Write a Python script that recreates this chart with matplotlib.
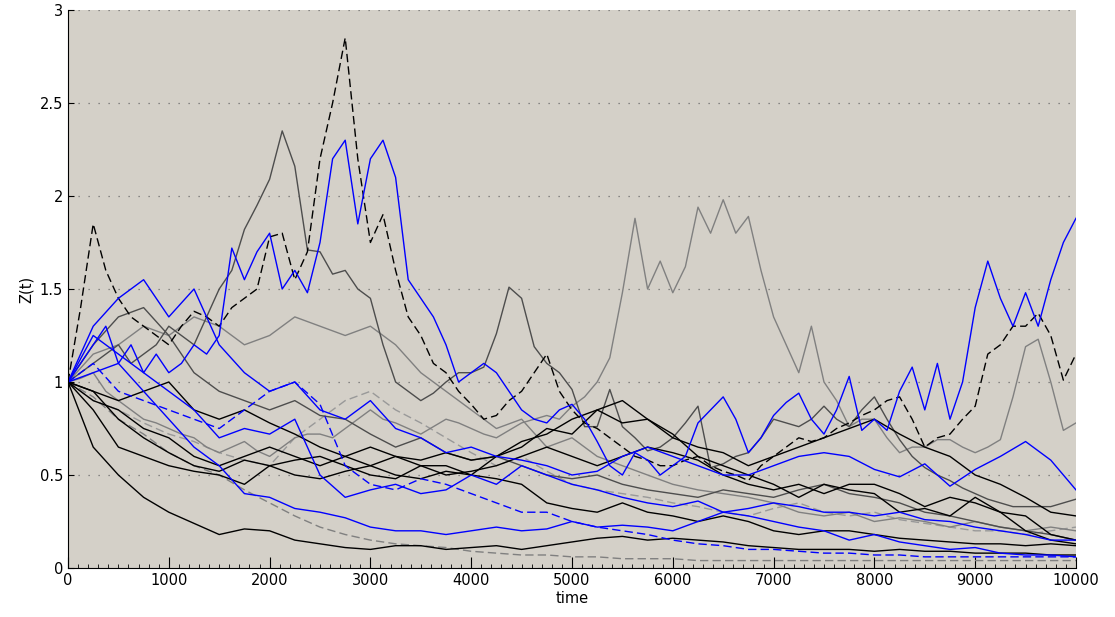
import numpy as np
import matplotlib
matplotlib.use('Agg')
import matplotlib.pyplot as plt
from matplotlib.ticker import MultipleLocator

# time grids: coarse (every 250) and fine (every 125) for the busier paths
t = np.arange(0, 10001, 250)
t_fine = np.arange(0, 10001, 125)

# fine paths, one row per 1000 time units
z_blue_top = [1.0, 1.1, 1.2, 1.3, 1.1, 1.2, 1.05, 1.15,
              1.05, 1.1, 1.2, 1.15, 1.25, 1.72, 1.55, 1.7,
              1.8, 1.5, 1.6, 1.48, 1.75, 2.2, 2.3, 1.85,
              2.2, 2.3, 2.1, 1.55, 1.45, 1.35, 1.2, 1.0,
              1.05, 1.1, 1.05, 0.95, 0.85, 0.8, 0.78, 0.85,
              0.88, 0.8, 0.68, 0.55, 0.5, 0.62, 0.58, 0.5,
              0.55, 0.6, 0.78, 0.85, 0.92, 0.8, 0.62, 0.7,
              0.82, 0.89, 0.94, 0.8, 0.72, 0.85, 1.03, 0.74,
              0.8, 0.74, 0.95, 1.08, 0.85, 1.1, 0.8, 1.0,
              1.4, 1.65, 1.45, 1.3, 1.48, 1.3, 1.55, 1.75,
              1.88]
z_black_dash = [1.0, 1.4, 1.85, 1.6, 1.45, 1.35, 1.3, 1.25,
                1.2, 1.3, 1.38, 1.35, 1.3, 1.4, 1.45, 1.5,
                1.78, 1.8, 1.55, 1.7, 2.2, 2.5, 2.85, 2.2,
                1.75, 1.9, 1.6, 1.35, 1.25, 1.1, 1.05, 0.95,
                0.88, 0.8, 0.82, 0.9, 0.95, 1.05, 1.15, 0.95,
                0.85, 0.78, 0.75, 0.7, 0.65, 0.6, 0.58, 0.55,
                0.55, 0.58, 0.6, 0.55, 0.52, 0.5, 0.47, 0.55,
                0.6, 0.65, 0.7, 0.68, 0.7, 0.75, 0.78, 0.82,
                0.85, 0.9, 0.92, 0.8, 0.65, 0.7, 0.72, 0.8,
                0.87, 1.15, 1.2, 1.3, 1.3, 1.37, 1.25, 1.01,
                1.15]
z_gray_mid = [1.0, 1.02, 1.05, 0.95, 0.9, 0.85, 0.8, 0.78,
              0.75, 0.72, 0.7, 0.65, 0.62, 0.65, 0.68, 0.63,
              0.6, 0.65, 0.7, 0.72, 0.72, 0.7, 0.75, 0.8,
              0.85, 0.8, 0.78, 0.75, 0.72, 0.76, 0.8, 0.78,
              0.75, 0.72, 0.7, 0.74, 0.78, 0.8, 0.82, 0.8,
              0.87, 0.92, 1.0, 1.13, 1.48, 1.88, 1.5, 1.65,
              1.48, 1.62, 1.94, 1.8, 1.98, 1.8, 1.89, 1.6,
              1.35, 1.2, 1.05, 1.3, 1.0, 0.9, 0.76, 0.8,
              0.8, 0.7, 0.62, 0.65, 0.65, 0.69, 0.69, 0.65,
              0.62, 0.65, 0.69, 0.92, 1.19, 1.23, 1.0, 0.74,
              0.78]
z_dgray_top = [1.0, 1.05, 1.1, 1.15, 1.2, 1.1, 1.15, 1.2,
               1.3, 1.25, 1.2, 1.35, 1.5, 1.6, 1.82, 1.95,
               2.09, 2.35, 2.16, 1.71, 1.7, 1.58, 1.6, 1.5,
               1.45, 1.2, 1.0, 0.95, 0.9, 0.94, 1.0, 1.05,
               1.05, 1.08, 1.26, 1.51, 1.45, 1.19, 1.1, 1.05,
               0.96, 0.76, 0.76, 0.96, 0.76, 0.7, 0.63, 0.65,
               0.7, 0.78, 0.87, 0.54, 0.56, 0.6, 0.62, 0.7,
               0.8, 0.78, 0.76, 0.8, 0.87, 0.8, 0.76, 0.85,
               0.92, 0.8, 0.69, 0.6, 0.54, 0.5, 0.47, 0.43,
               0.4, 0.37, 0.35, 0.33, 0.33, 0.33, 0.33, 0.35,
               0.37]

# coarse paths
z_gray_early = [1.0, 1.15, 1.2, 1.3, 1.25, 1.35, 1.3, 1.2, 1.25, 1.35,
                1.3, 1.25, 1.3, 1.2, 1.05, 0.95, 0.85, 0.75, 0.8, 0.65,
                0.7, 0.6, 0.55, 0.5, 0.45, 0.42, 0.4, 0.38, 0.35, 0.3,
                0.28, 0.3, 0.25, 0.27, 0.25, 0.22, 0.25, 0.22, 0.2, 0.22,
                0.2]
z_blue_mid = [1.0, 1.3, 1.45, 1.55, 1.35, 1.5, 1.2, 1.05, 0.95, 1.0,
              0.85, 0.8, 0.9, 0.75, 0.7, 0.62, 0.65, 0.6, 0.58, 0.55,
              0.5, 0.52, 0.6, 0.65, 0.6, 0.55, 0.5, 0.5, 0.55, 0.6,
              0.62, 0.6, 0.53, 0.49, 0.56, 0.44, 0.53, 0.6, 0.68, 0.58,
              0.42]
z_blue_dash = [1.0, 1.1, 0.95, 0.9, 0.85, 0.8, 0.75, 0.85, 0.95, 1.0,
               0.88, 0.55, 0.45, 0.42, 0.48, 0.45, 0.4, 0.35, 0.3, 0.3,
               0.25, 0.22, 0.2, 0.18, 0.15, 0.13, 0.12, 0.1, 0.1, 0.09,
               0.08, 0.08, 0.07, 0.07, 0.06, 0.06, 0.06, 0.06, 0.06, 0.06,
               0.06]
z_blue_low = [1.0, 1.05, 1.1, 0.95, 0.8, 0.65, 0.55, 0.4, 0.38, 0.32,
              0.3, 0.27, 0.22, 0.2, 0.2, 0.18, 0.2, 0.22, 0.2, 0.21,
              0.25, 0.22, 0.23, 0.22, 0.2, 0.25, 0.3, 0.28, 0.25, 0.22,
              0.2, 0.15, 0.18, 0.14, 0.12, 0.1, 0.11, 0.08, 0.07, 0.07,
              0.06]
z_blue_4 = [1.0, 1.25, 1.15, 1.05, 0.95, 0.85, 0.7, 0.75, 0.72, 0.8,
            0.5, 0.38, 0.42, 0.45, 0.4, 0.42, 0.5, 0.45, 0.55, 0.5,
            0.45, 0.42, 0.38, 0.35, 0.33, 0.36, 0.3, 0.32, 0.35, 0.33,
            0.3, 0.3, 0.28, 0.3, 0.26, 0.25, 0.22, 0.2, 0.18, 0.15,
            0.15]
z_black_low = [1.0, 0.65, 0.5, 0.38, 0.3, 0.24, 0.18, 0.21, 0.2, 0.15,
               0.13, 0.11, 0.1, 0.12, 0.12, 0.1, 0.11, 0.12, 0.1, 0.12,
               0.14, 0.16, 0.17, 0.15, 0.16, 0.15, 0.14, 0.12, 0.11, 0.1,
               0.1, 0.1, 0.09, 0.1, 0.09, 0.09, 0.08, 0.08, 0.08, 0.07,
               0.07]
z_black_2 = [1.0, 0.85, 0.65, 0.6, 0.55, 0.52, 0.5, 0.45, 0.55, 0.58,
             0.6, 0.55, 0.5, 0.48, 0.55, 0.55, 0.5, 0.48, 0.45, 0.35,
             0.32, 0.3, 0.35, 0.3, 0.28, 0.25, 0.28, 0.25, 0.2, 0.18,
             0.2, 0.2, 0.18, 0.16, 0.15, 0.14, 0.13, 0.13, 0.12, 0.13,
             0.12]
z_black_3 = [1.0, 0.9, 0.85, 0.75, 0.7, 0.6, 0.55, 0.6, 0.65, 0.6,
             0.55, 0.6, 0.65, 0.6, 0.58, 0.62, 0.58, 0.6, 0.68, 0.72,
             0.8, 0.85, 0.78, 0.8, 0.72, 0.6, 0.55, 0.5, 0.45, 0.38,
             0.45, 0.42, 0.4, 0.3, 0.32, 0.28, 0.38, 0.3, 0.2, 0.15,
             0.13]
z_black_4 = [1.0, 0.95, 0.8, 0.7, 0.62, 0.55, 0.52, 0.58, 0.55, 0.5,
             0.48, 0.52, 0.55, 0.6, 0.55, 0.5, 0.52, 0.55, 0.6, 0.65,
             0.6, 0.55, 0.6, 0.65, 0.62, 0.58, 0.5, 0.45, 0.42, 0.45,
             0.4, 0.45, 0.45, 0.4, 0.33, 0.38, 0.35, 0.3, 0.28, 0.18,
             0.15]
z_black_5 = [1.0, 0.95, 0.9, 0.95, 1.0, 0.85, 0.8, 0.85, 0.78, 0.72,
             0.65, 0.6, 0.55, 0.5, 0.48, 0.52, 0.5, 0.6, 0.65, 0.75,
             0.72, 0.85, 0.9, 0.8, 0.7, 0.65, 0.62, 0.55, 0.6, 0.65,
             0.7, 0.75, 0.8, 0.72, 0.65, 0.6, 0.5, 0.45, 0.38, 0.3,
             0.28]
z_gray_dash = [1.0, 0.92, 0.8, 0.72, 0.62, 0.55, 0.5, 0.42, 0.35, 0.28,
               0.22, 0.18, 0.15, 0.13, 0.12, 0.11, 0.09, 0.08, 0.07, 0.07,
               0.06, 0.06, 0.05, 0.05, 0.05, 0.04, 0.04, 0.04, 0.04, 0.04,
               0.04, 0.04, 0.04, 0.04, 0.04, 0.04, 0.04, 0.04, 0.04, 0.04,
               0.04]
z_lgray_dash = [1.0, 0.9, 0.85, 0.78, 0.72, 0.68, 0.62, 0.58, 0.55, 0.7,
                0.8, 0.9, 0.95, 0.85, 0.78, 0.7, 0.62, 0.55, 0.6, 0.52,
                0.45, 0.42, 0.4, 0.38, 0.35, 0.33, 0.3, 0.28, 0.32, 0.35,
                0.3, 0.28, 0.3, 0.26, 0.24, 0.22, 0.2, 0.2, 0.18, 0.2,
                0.22]
z_dgray_2 = [1.0, 1.2, 1.35, 1.4, 1.25, 1.05, 0.95, 0.9, 0.85, 0.9,
             0.82, 0.8, 0.72, 0.65, 0.7, 0.62, 0.58, 0.6, 0.55, 0.5,
             0.48, 0.5, 0.45, 0.42, 0.4, 0.38, 0.42, 0.4, 0.38, 0.42,
             0.45, 0.4, 0.38, 0.35, 0.3, 0.28, 0.25, 0.22, 0.2, 0.18,
             0.15]

dgray = (0.3, 0.3, 0.3)
mgray = (0.5, 0.5, 0.5)
lgray = (0.6, 0.6, 0.6)
dash = (0, (6, 3))

fig = plt.figure(figsize=(11.15, 6.17), dpi=100)
ax = fig.add_axes([0.061, 0.0794, 0.904, 0.9044])
ax.set_facecolor('#d4d0c8')

# grays first, then blacks, blues on top
ax.plot(t, z_gray_dash, color=mgray, ls=dash, lw=1)
ax.plot(t, z_lgray_dash, color=lgray, ls=dash, lw=1)
ax.plot(t, z_gray_early, color=mgray, lw=1)
ax.plot(t_fine, z_gray_mid, color=mgray, lw=1)
ax.plot(t, z_dgray_2, color=dgray, lw=1)
ax.plot(t_fine, z_dgray_top, color=dgray, lw=1)
ax.plot(t, z_black_low, color='k', lw=1)
ax.plot(t, z_black_2, color='k', lw=1)
ax.plot(t, z_black_3, color='k', lw=1)
ax.plot(t, z_black_4, color='k', lw=1)
ax.plot(t, z_black_5, color='k', lw=1)
ax.plot(t_fine, z_black_dash, color='k', ls=dash, lw=1)
ax.plot(t, z_blue_low, color='b', lw=1)
ax.plot(t, z_blue_4, color='b', lw=1)
ax.plot(t, z_blue_dash, color='b', ls=dash, lw=1)
ax.plot(t, z_blue_mid, color='b', lw=1)
ax.plot(t_fine, z_blue_top, color='b', lw=1)

ax.set_xlim(0, 10000)
ax.set_ylim(0, 3)
ax.xaxis.set_major_locator(MultipleLocator(1000))
ax.xaxis.set_minor_locator(MultipleLocator(100))
ax.set_yticks([0, 0.5, 1, 1.5, 2, 2.5, 3])
ax.set_yticklabels(['0', '0.5', '1', '1.5', '2', '2.5', '3'])
ax.grid(axis='y', color='#6e6e6e', linestyle=(0, (1, 7)), lw=0.9)
ax.tick_params(direction='in', labelsize=10.5, length=8, width=0.8)
ax.tick_params(which='minor', direction='in', length=3, width=0.6)
ax.tick_params(axis='y', length=4)
ax.spines['top'].set_visible(False)
ax.spines['right'].set_visible(False)
ax.set_xlabel('time', fontsize=10.5, labelpad=2)
ax.set_ylabel('Z(t)', fontsize=10.5, labelpad=4)

fig.savefig('out.png', dpi=100)
